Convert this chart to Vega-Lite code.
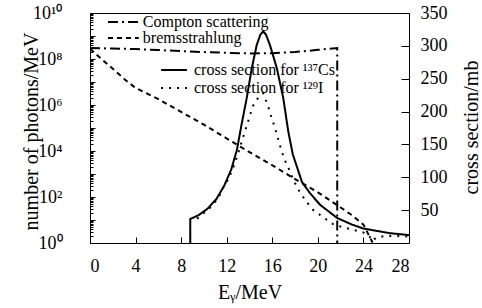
{
  "$schema": "https://vega.github.io/schema/vega-lite/v6.json",
  "width": 319,
  "height": 230,
  "autosize": {"type": "none"},
  "padding": {"left": 90, "top": 13, "right": 73, "bottom": 65},
  "background": "white",
  "config": {
    "font": "Liberation Serif",
    "view": {"stroke": "black", "strokeWidth": 1},
    "axis": {"labelFont": "Liberation Serif", "titleFont": "Liberation Serif", "labelColor": "black", "titleColor": "black", "tickColor": "black", "domainColor": "black", "titleFontWeight": "normal", "grid": false, "labelFontSize": 18, "titleFontSize": 20},
    "legend": {"labelFont": "Liberation Serif", "labelColor": "black"}
  },
  "layer": [
    {
      "data": {"values": [
        {"series": "Compton scattering", "E": 0, "N": 3.0e8},
        {"series": "Compton scattering", "E": 2, "N": 2.85e8},
        {"series": "Compton scattering", "E": 4, "N": 2.7e8},
        {"series": "Compton scattering", "E": 6, "N": 2.45e8},
        {"series": "Compton scattering", "E": 8, "N": 2.2e8},
        {"series": "Compton scattering", "E": 10, "N": 2.0e8},
        {"series": "Compton scattering", "E": 12, "N": 1.85e8},
        {"series": "Compton scattering", "E": 14, "N": 1.75e8},
        {"series": "Compton scattering", "E": 16, "N": 1.8e8},
        {"series": "Compton scattering", "E": 18, "N": 2.0e8},
        {"series": "Compton scattering", "E": 20, "N": 2.5e8},
        {"series": "Compton scattering", "E": 21.7, "N": 3.0e8},
        {"series": "Compton scattering", "E": 21.7, "N": 1},
        {"series": "bremsstrahlung", "E": 0, "N": 2.8e8},
        {"series": "bremsstrahlung", "E": 1, "N": 1.0e8},
        {"series": "bremsstrahlung", "E": 2, "N": 3.8e7},
        {"series": "bremsstrahlung", "E": 3, "N": 1.35e7},
        {"series": "bremsstrahlung", "E": 4, "N": 5.5e6},
        {"series": "bremsstrahlung", "E": 6, "N": 1.8e6},
        {"series": "bremsstrahlung", "E": 8, "N": 5.0e5},
        {"series": "bremsstrahlung", "E": 10, "N": 1.4e5},
        {"series": "bremsstrahlung", "E": 12, "N": 3.5e4},
        {"series": "bremsstrahlung", "E": 14, "N": 8.9e3},
        {"series": "bremsstrahlung", "E": 16, "N": 2.4e3},
        {"series": "bremsstrahlung", "E": 18, "N": 600},
        {"series": "bremsstrahlung", "E": 20, "N": 160},
        {"series": "bremsstrahlung", "E": 22, "N": 35},
        {"series": "bremsstrahlung", "E": 23, "N": 16},
        {"series": "bremsstrahlung", "E": 24, "N": 6.3},
        {"series": "bremsstrahlung", "E": 24.8, "N": 1.05}
      ]},
      "mark": {"type": "line", "color": "black", "strokeWidth": 2, "clip": true},
      "encoding": {
        "x": {"field": "E", "type": "quantitative", "scale": {"domain": [0, 28], "nice": false},
          "axis": {"values": [0, 4, 8, 12, 16, 20, 24, 28], "title": "Eᵧ/MeV", "tickSize": -6, "labelPadding": 20, "titlePadding": 7, "domain": false}},
        "y": {"field": "N", "type": "quantitative", "scale": {"type": "log", "domain": [1, 1e10], "nice": false},
          "axis": {"orient": "left", "title": "number of photons/MeV", "domain": false, "labelOverlap": false, "labelPadding": 33,
            "titleX": -53, "titleY": 118, "titleBaseline": "alphabetic", "titleAlign": "center", "titleAngle": 270,
            "values": [1,2,3,4,5,6,7,8,9,10,20,30,40,50,60,70,80,90,100,200,300,400,500,600,700,800,900,1000,2000,3000,4000,5000,6000,7000,8000,9000,1e4,2e4,3e4,4e4,5e4,6e4,7e4,8e4,9e4,1e5,2e5,3e5,4e5,5e5,6e5,7e5,8e5,9e5,1e6,2e6,3e6,4e6,5e6,6e6,7e6,8e6,9e6,1e7,2e7,3e7,4e7,5e7,6e7,7e7,8e7,9e7,1e8,2e8,3e8,4e8,5e8,6e8,7e8,8e8,9e8,1e9,2e9,3e9,4e9,5e9,6e9,7e9,8e9,9e9,1e10],
            "tickSize": {"condition": {"test": "abs(log(datum.value)/LN10 - round(log(datum.value)/LN10)) < 0.000001", "value": -5}, "value": -3},
            "labelExpr": "datum.value==1?'10⁰':datum.value==100?'10²':datum.value==10000?'10⁴':datum.value==1000000?'10⁶':datum.value==100000000?'10⁸':datum.value==10000000000?'10¹⁰':''"}},
        "strokeDash": {"field": "series", "type": "nominal",
          "scale": {"domain": ["Compton scattering", "bremsstrahlung"], "range": [[10, 4, 2, 4], [5, 4]]},
          "legend": {"orient": "none", "legendX": 25.4, "legendY": 1, "title": null, "symbolType": "M-2.2,0H2.2", "symbolSize": 196, "symbolStrokeWidth": 2, "symbolStrokeColor": "black", "symbolFillColor": "transparent", "labelFontSize": 16, "labelOffset": 11.4, "rowPadding": 0, "padding": 0, "labelLimit": 300}},
        "order": {"value": null}
      }
    },
    {
      "data": {"values": [
        {"series": "cross section for ¹³⁷Cs", "E": 8.8, "S": 0},
        {"series": "cross section for ¹³⁷Cs", "E": 8.8, "S": 36.5},
        {"series": "cross section for ¹³⁷Cs", "E": 9.5, "S": 42},
        {"series": "cross section for ¹³⁷Cs", "E": 10.3, "S": 52},
        {"series": "cross section for ¹³⁷Cs", "E": 11.1, "S": 67},
        {"series": "cross section for ¹³⁷Cs", "E": 11.8, "S": 88},
        {"series": "cross section for ¹³⁷Cs", "E": 12.4, "S": 112},
        {"series": "cross section for ¹³⁷Cs", "E": 12.9, "S": 142},
        {"series": "cross section for ¹³⁷Cs", "E": 13.3, "S": 180},
        {"series": "cross section for ¹³⁷Cs", "E": 13.75, "S": 220},
        {"series": "cross section for ¹³⁷Cs", "E": 14.2, "S": 266},
        {"series": "cross section for ¹³⁷Cs", "E": 14.63, "S": 301},
        {"series": "cross section for ¹³⁷Cs", "E": 14.95, "S": 317},
        {"series": "cross section for ¹³⁷Cs", "E": 15.2, "S": 322},
        {"series": "cross section for ¹³⁷Cs", "E": 15.45, "S": 317},
        {"series": "cross section for ¹³⁷Cs", "E": 15.8, "S": 301},
        {"series": "cross section for ¹³⁷Cs", "E": 16.4, "S": 266},
        {"series": "cross section for ¹³⁷Cs", "E": 16.97, "S": 220},
        {"series": "cross section for ¹³⁷Cs", "E": 17.4, "S": 170},
        {"series": "cross section for ¹³⁷Cs", "E": 17.8, "S": 135},
        {"series": "cross section for ¹³⁷Cs", "E": 18.6, "S": 93},
        {"series": "cross section for ¹³⁷Cs", "E": 19.3, "S": 76},
        {"series": "cross section for ¹³⁷Cs", "E": 20.2, "S": 58},
        {"series": "cross section for ¹³⁷Cs", "E": 21.7, "S": 38},
        {"series": "cross section for ¹³⁷Cs", "E": 23, "S": 28},
        {"series": "cross section for ¹³⁷Cs", "E": 24, "S": 22},
        {"series": "cross section for ¹³⁷Cs", "E": 26.3, "S": 15},
        {"series": "cross section for ¹³⁷Cs", "E": 28, "S": 12},
        {"series": "cross section for ¹²⁹I", "E": 9.4, "S": 37},
        {"series": "cross section for ¹²⁹I", "E": 10.5, "S": 53},
        {"series": "cross section for ¹²⁹I", "E": 11.25, "S": 68},
        {"series": "cross section for ¹²⁹I", "E": 11.7, "S": 84},
        {"series": "cross section for ¹²⁹I", "E": 12.2, "S": 99},
        {"series": "cross section for ¹²⁹I", "E": 12.6, "S": 116},
        {"series": "cross section for ¹²⁹I", "E": 12.9, "S": 131},
        {"series": "cross section for ¹²⁹I", "E": 13.46, "S": 162},
        {"series": "cross section for ¹²⁹I", "E": 13.75, "S": 178},
        {"series": "cross section for ¹²⁹I", "E": 14.05, "S": 195},
        {"series": "cross section for ¹²⁹I", "E": 14.35, "S": 210},
        {"series": "cross section for ¹²⁹I", "E": 14.8, "S": 222},
        {"series": "cross section for ¹²⁹I", "E": 15.2, "S": 228},
        {"series": "cross section for ¹²⁹I", "E": 15.6, "S": 210},
        {"series": "cross section for ¹²⁹I", "E": 15.95, "S": 190},
        {"series": "cross section for ¹²⁹I", "E": 16.24, "S": 175},
        {"series": "cross section for ¹²⁹I", "E": 16.5, "S": 159},
        {"series": "cross section for ¹²⁹I", "E": 16.8, "S": 141},
        {"series": "cross section for ¹²⁹I", "E": 17.1, "S": 126},
        {"series": "cross section for ¹²⁹I", "E": 17.5, "S": 111},
        {"series": "cross section for ¹²⁹I", "E": 17.85, "S": 96},
        {"series": "cross section for ¹²⁹I", "E": 18.3, "S": 81},
        {"series": "cross section for ¹²⁹I", "E": 18.9, "S": 65},
        {"series": "cross section for ¹²⁹I", "E": 19.6, "S": 50},
        {"series": "cross section for ¹²⁹I", "E": 20.5, "S": 39},
        {"series": "cross section for ¹²⁹I", "E": 21.3, "S": 29},
        {"series": "cross section for ¹²⁹I", "E": 22.2, "S": 24},
        {"series": "cross section for ¹²⁹I", "E": 23.1, "S": 20},
        {"series": "cross section for ¹²⁹I", "E": 24.0, "S": 16},
        {"series": "cross section for ¹²⁹I", "E": 24.5, "S": 11},
        {"series": "cross section for ¹²⁹I", "E": 24.8, "S": 3},
        {"series": "cross section for ¹²⁹I", "E": 25.1, "S": 8},
        {"series": "cross section for ¹²⁹I", "E": 26, "S": 11},
        {"series": "cross section for ¹²⁹I", "E": 27, "S": 10.5},
        {"series": "cross section for ¹²⁹I", "E": 28, "S": 10}
      ]},
      "mark": {"type": "line", "color": "black", "strokeWidth": 2, "clip": true},
      "encoding": {
        "x": {"field": "E", "type": "quantitative"},
        "y": {"field": "S", "type": "quantitative", "scale": {"domain": [0, 350], "nice": false},
          "axis": {"orient": "right", "title": "cross section/mb", "titleAngle": 270, "titleX": 68, "titleY": 114, "titleBaseline": "alphabetic", "titleAlign": "center", "values": [50, 100, 150, 200, 250, 300, 350], "tickSize": -8, "labelPadding": 19, "domain": false}},
        "strokeDash": {"field": "series", "type": "nominal",
          "scale": {"domain": ["cross section for ¹³⁷Cs", "cross section for ¹²⁹I"], "range": [[1, 0], [2, 6]]},
          "legend": {"orient": "none", "legendX": 76, "legendY": 49, "title": null, "symbolType": "M-1.85,0H1.85", "symbolSize": 196, "symbolStrokeWidth": 2, "symbolStrokeColor": "black", "symbolFillColor": "transparent", "labelFontSize": 16, "labelOffset": 12, "rowPadding": 2, "padding": 0, "labelLimit": 300}},
        "order": {"value": null}
      }
    }
  ],
  "resolve": {"scale": {"y": "independent", "strokeDash": "independent"}, "legend": {"strokeDash": "independent"}}
}
